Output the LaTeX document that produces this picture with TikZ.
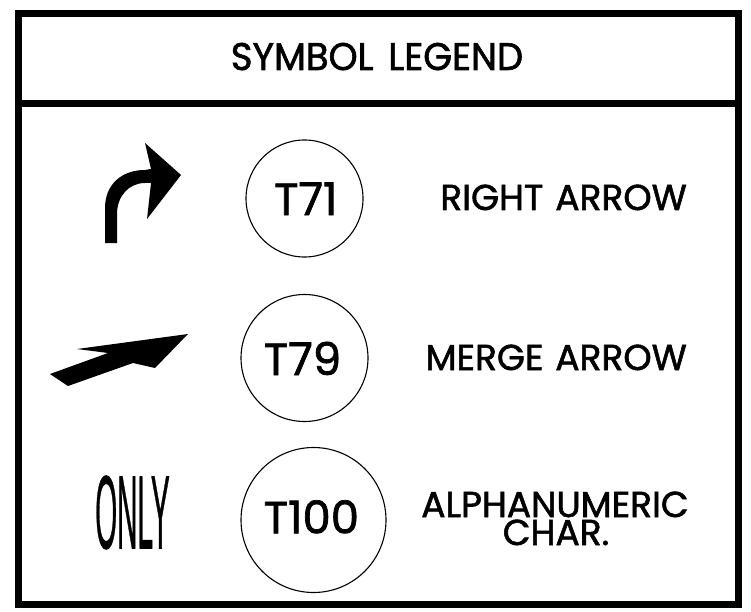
\documentclass[tikz,border=0pt]{standalone}
\usepackage{fontspec}
\setmainfont{Poppins}[FakeBold=1.6]
\newfontfamily\onlyfont{Liberation Sans}[FakeBold=1]
\begin{document}
\begin{tikzpicture}[x=1pt,y=-1pt,
  frame/.style={line width=7pt},
  ring/.style={circle,draw,line width=1.1pt,inner sep=0pt},
  code/.style={inner sep=0pt,font=\fontsize{45}{45}\selectfont},
  label/.style={inner sep=0pt,font=\fontsize{36}{28}\selectfont},
  titlefont/.style={inner sep=0pt,font=\fontsize{38.5}{40}\selectfont},
  sym/.style={fill=black,draw=none}]
\useasboundingbox (0,0) rectangle (751,612);
% frame
\draw[frame] (18,14) rectangle (738.5,604);
\draw[frame] (18,104) -- (738.5,104);
% title
\node[titlefont,anchor=base] (title) at (377,70) {\scalebox{0.96}[1]{SYMBOL\hspace{0.4em}LEGEND}};
% circles
\node[ring,minimum size=117pt] (c1) at (304.5,198.5) {};
\node[ring,minimum size=127pt] (c2) at (304.5,358) {};
\node[ring,minimum size=145pt] (c3) at (313.5,520) {};
\node[code,anchor=base] (t1) at (305.8,215) {T71};
\node[code,anchor=base] (t2) at (302.5,375) {T79};
\node[code,anchor=base] (t3) at (311.4,533.3) {T100};
% labels
\node[label,anchor=base east] (l1) at (687,210) {RIGHT\hspace{0.33em}ARROW};
\node[label,anchor=base east] (l2) at (687,370) {MERGE\hspace{0.33em}ARROW};
\node[label,anchor=base] (l3) at (555,517) {ALPHANUMERIC};
\node[label,anchor=base] (l4) at (556,545) {CHAR.};
% right arrow symbol
\fill[sym] (105,243) -- (105,208) .. controls (105,185) and (121,170) .. (145,170)
  -- (151,169) -- (145,143) -- (181,175) -- (147,219) -- (151,183) -- (145,183)
  .. controls (129,183) and (117,196) .. (117,214) -- (117,243) -- cycle;
% merge arrow symbol
\fill[sym] (50,374) -- (68,386) -- (133,363) -- (155,368) -- (188,334) -- (77,349) -- (108,353) -- cycle;
% ONLY
\node[inner sep=0pt,anchor=center] (only) at (132.5,512.5) {\scalebox{0.27}[1]{\onlyfont\fontsize{104}{104}\selectfont ONLY}};
\end{tikzpicture}
\end{document}
